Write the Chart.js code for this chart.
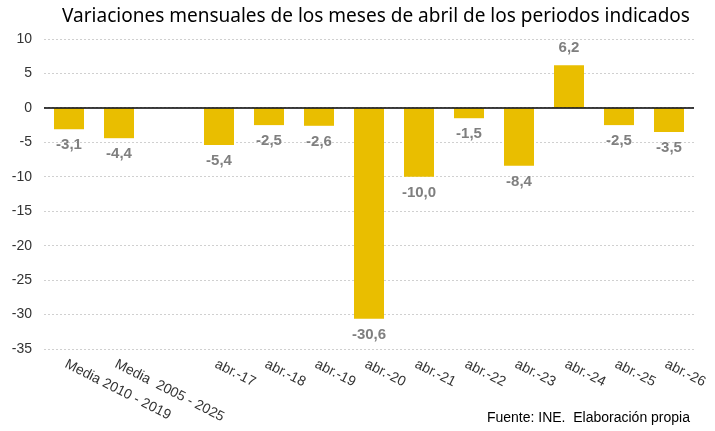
<!DOCTYPE html>
<html>
<head>
<meta charset="utf-8">
<script src="https://cdn.jsdelivr.net/npm/chart.js@4.4.1/dist/chart.umd.min.js"></script>
<style>
  html, body { margin: 0; padding: 0; background: #fff; }
  #wrap { width: 715px; height: 431px; position: relative; }
</style>
</head>
<body>
<div id="wrap"><canvas id="abrilChart"></canvas></div>
<script>
// Datos
const categorias = ["Media 2010 - 2019", "Media  2005 - 2025", "", "abr.-17", "abr.-18", "abr.-19",
    "abr.-20", "abr.-21", "abr.-22", "abr.-23", "abr.-24", "abr.-25", "abr.-26"];
const variaciones = [-3.1, -4.4, null, -5.4, -2.5, -2.6, -30.6, -10.0, -1.5, -8.4, 6.2, -2.5, -3.5];
const ticksY = [10, 5, 0, -5, -10, -15, -20, -25, -30, -35];
const titulo = "Variaciones mensuales de los meses de abril de los periodos indicados";
const fuente = "Fuente: INE.  Elaboración propia";

// Etiquetas de valor debajo/encima de cada barra
const etiquetasValor = {
    id: "etiquetasValor",
    afterDatasetsDraw(chart) {
        const ctx = chart.ctx;
        const meta = chart.getDatasetMeta(0);
        ctx.save();
        ctx.font = "bold 15px 'Liberation Sans', Arial, sans-serif";
        ctx.fillStyle = "#7f7f7f";
        ctx.textAlign = "center";
        ctx.textBaseline = "middle";
        meta.data.forEach((bar, i) => {
            const v = variaciones[i];
            if (v === null) return;
            const txt = v.toFixed(1).replace(".", ",");
            const y = v < 0 ? bar.y + 16 : bar.y - 17;
            ctx.fillText(txt, bar.x, y);
        });
        ctx.restore();
    }
};

// Título, etiquetas del eje X giradas hacia abajo y fuente
const textos = {
    id: "textos",
    afterDraw(chart) {
        const ctx = chart.ctx;
        const xScale = chart.scales.x;
        const bottom = chart.chartArea.bottom;
        ctx.save();
        ctx.font = "19px 'Noto Sans', sans-serif";
        ctx.fillStyle = "#000";
        ctx.textAlign = "center";
        ctx.textBaseline = "middle";
        ctx.fillText(titulo, 376, 17);

        ctx.font = "14px 'Liberation Sans', Arial, sans-serif";
        ctx.fillStyle = "#333";
        categorias.forEach((c, i) => {
            if (!c) return;
            const x = xScale.getPixelForValue(i);
            ctx.save();
            ctx.translate(x, bottom + 8);
            ctx.rotate(27 * Math.PI / 180);
            ctx.textAlign = "left";
            ctx.textBaseline = "top";
            ctx.fillText(c, 0, 0);
            ctx.restore();
        });
        ctx.fillStyle = "#000";
        ctx.textAlign = "right";
        ctx.textBaseline = "middle";
        ctx.fillText(fuente, 690, 418);
        ctx.restore();
    }
};

// Línea del cero
const lineaCero = {
    id: "lineaCero",
    afterDatasetsDraw(chart) {
        const ctx = chart.ctx;
        const y = chart.scales.y.getPixelForValue(0);
        ctx.save();
        ctx.strokeStyle = "#000";
        ctx.lineWidth = 1.5;
        ctx.beginPath();
        ctx.moveTo(chart.chartArea.left, y);
        ctx.lineTo(chart.chartArea.right, y);
        ctx.stroke();
        ctx.restore();
    }
};

const ctx = document.getElementById("abrilChart").getContext("2d");
new Chart(ctx, {
    type: "bar",
    data: {
        labels: categorias,
        datasets: [{
            data: variaciones,
            backgroundColor: "#E9BE00",
            borderWidth: 0,
            barPercentage: 0.6,
            categoryPercentage: 1.0
        }]
    },
    options: {
        responsive: true,
        maintainAspectRatio: false,
        animation: false,
        layout: { padding: { left: 0, right: 21, top: 39, bottom: 82 } },
        plugins: {
            legend: { display: false },
            tooltip: { enabled: false },
            title: { display: false }
        },
        scales: {
            x: {
                display: false
            },
            y: {
                min: -35,
                max: 10,
                afterFit(scale) { scale.width = 44; },
                afterBuildTicks(scale) { scale.ticks = ticksY.map(v => ({ value: v })); },
                ticks: {
                    color: "#333",
                    font: { family: "'Liberation Sans', Arial, sans-serif", size: 14 },
                    padding: 12
                },
                grid: { color: "#d0d0d0", drawTicks: false, lineWidth: 1 },
                border: { display: false, dash: [2, 2] }
            }
        }
    },
    plugins: [etiquetasValor, textos, lineaCero]
});
</script>
</body>
</html>
